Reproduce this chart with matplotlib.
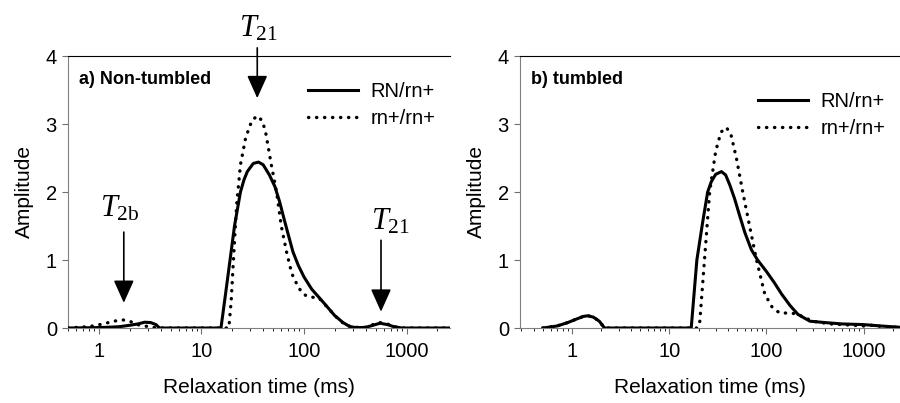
import matplotlib
matplotlib.use("Agg")
import matplotlib.pyplot as plt

plt.rcParams['font.family'] = ['Liberation Sans', 'DejaVu Sans']
plt.rcParams['mathtext.fontset'] = 'custom'
plt.rcParams['mathtext.rm'] = 'Liberation Serif'
plt.rcParams['mathtext.it'] = 'Liberation Serif:italic'

# a) non-tumbled, RN/rn+ (solid)
a_rn_x = [0.5, 0.8, 1.2, 1.6, 2.0, 2.4, 2.8, 3.2, 3.6, 3.9, 6, 10, 15.5, 17, 19, 21, 24, 26, 28,
          32, 36, 40, 46, 52, 58, 64, 70, 78, 88, 100, 119, 140, 160, 200, 240, 280, 330,
          400, 470, 550, 650, 750, 900, 1300, 2700]
a_rn_y = [0, 0.004, 0.01, 0.02, 0.04, 0.06, 0.085, 0.08, 0.05, 0.0, 0, 0, 0, 0.45, 1.0, 1.5, 2.0, 2.18, 2.3,
          2.42, 2.44, 2.4, 2.25, 2.08, 1.85, 1.6, 1.38, 1.12, 0.92, 0.75, 0.57, 0.45, 0.35, 0.18, 0.08, 0.02, 0.005,
          0.01, 0.04, 0.07, 0.05, 0.02, 0, 0, 0]
# a) non-tumbled, rn+/rn+ (dotted)
a_pp_x = [0.5, 0.8, 1.1, 1.4, 1.7, 2.0, 2.35, 2.8, 3.3, 4.0, 8, 18.5, 19.5, 20.5, 22, 24, 27,
          31, 35, 39, 42, 48, 54, 60, 68, 76, 88, 98, 110, 125, 140, 170, 200, 250, 300,
          400, 470, 550, 650, 750, 900, 1300, 2700]
a_pp_y = [0, 0.02, 0.06, 0.1, 0.12, 0.1, 0.05, 0.03, 0.01, 0, 0, 0, 0.4, 1.0, 1.8, 2.4, 2.8,
          3.05, 3.12, 3.05, 2.9, 2.4, 2.0, 1.5, 1.1, 0.8, 0.6, 0.5, 0.46, 0.45, 0.44, 0.3, 0.18, 0.05, 0.01,
          0.01, 0.05, 0.08, 0.06, 0.02, 0, 0, 0]

# b) tumbled, RN/rn+ (solid)
b_rn_x = [0.5, 0.7, 0.9, 1.1, 1.3, 1.45, 1.65, 1.9, 2.15, 5, 10, 16.8, 19.2, 22, 24.8, 27, 30,
          34.4, 38, 42, 47, 53, 60, 70, 81, 100, 120, 143, 175, 211, 280, 400, 600, 1000, 1500, 2400]
b_rn_y = [0, 0.03, 0.08, 0.13, 0.17, 0.18, 0.16, 0.1, 0, 0, 0, 0, 1.0, 1.55, 2.0, 2.15, 2.26,
          2.3, 2.25, 2.1, 1.9, 1.65, 1.4, 1.15, 1.0, 0.83, 0.67, 0.5, 0.33, 0.2, 0.1, 0.08, 0.06, 0.05, 0.03, 0.01]
# b) tumbled, rn+/rn+ (dotted)
b_pp_x = [0.5, 0.7, 0.9, 1.1, 1.3, 1.45, 1.65, 1.9, 2.15, 5, 10, 19.5, 20.6, 23, 26, 30, 34,
          38.6, 43, 49, 57, 67, 79, 96, 115, 137, 170, 203, 250, 300, 450, 600, 1000, 1200, 1600, 2400]
b_pp_y = [0, 0.03, 0.08, 0.13, 0.17, 0.18, 0.16, 0.1, 0, 0, 0, 0, 0.1, 1.0, 2.0, 2.6, 2.88,
          2.95, 2.85, 2.5, 2.0, 1.5, 1.0, 0.5, 0.3, 0.22, 0.22, 0.21, 0.15, 0.1, 0.06, 0.05, 0.03, 0.04, 0.02, 0.01]

fig = plt.figure(figsize=(9, 4.03), dpi=100)
ax1 = fig.add_axes([68/900, 1-328/403, 382/900, 272/403])
ax2 = fig.add_axes([520/900, 1-328/403, 380/900, 272/403])


def style(ax, xmin, xmax, label):
    ax.set_xscale('log')
    ax.set_xlim(xmin, xmax)
    ax.set_ylim(0, 4)
    ax.set_yticks([0, 1, 2, 3, 4])
    ax.set_xticks([1, 10, 100, 1000])
    ax.set_xticklabels(['1', '10', '100', '1000'])
    ax.tick_params(axis='both', labelsize=14.5, direction='out', color='#707070')
    ax.tick_params(axis='x', which='major', length=4, pad=6)
    ax.tick_params(axis='x', which='minor', length=2.5)
    ax.tick_params(axis='y', length=4, pad=4)
    ax.spines['right'].set_visible(False)
    ax.spines['left'].set_color('#808080')
    ax.spines['bottom'].set_color('#808080')
    ax.spines['top'].set_linewidth(0.8)
    ax.set_ylabel('Amplitude', fontsize=15, labelpad=8.5)
    ax.set_xlabel('Relaxation time (ms)', fontsize=15, labelpad=12)
    ax.text(0.03, 0.915, label, transform=ax.transAxes, fontsize=13,
            fontweight='bold', va='center')


for ax, rx, ry, px, py in [(ax1, a_rn_x, a_rn_y, a_pp_x, a_pp_y),
                           (ax2, b_rn_x, b_rn_y, b_pp_x, b_pp_y)]:
    ax.plot(rx, ry, color='black', lw=2.2, solid_joinstyle='round', label='RN/rn+', zorder=3)
    ax.plot(px, py, color='black', lw=2.4, linestyle=(0, (0.1, 2.3)),
            dash_capstyle='round', label='rn+/rn+', zorder=4)

style(ax1, 0.5, 2650, 'a) Non-tumbled')
style(ax2, 0.29, 2370, 'b) tumbled')

ax1.legend(loc='upper right', bbox_to_anchor=(0.982, 0.935), frameon=False, fontsize=14.5,
           handlelength=2.5, handletextpad=0.6, labelspacing=0.42, borderaxespad=0)
ax2.legend(loc='upper right', bbox_to_anchor=(0.982, 0.898), frameon=False, fontsize=14.5,
           handlelength=2.5, handletextpad=0.6, labelspacing=0.42, borderaxespad=0)

# arrows marking the T2 populations
arrow_x = [35, 1.75, 563]
arrow_top = [4.12, 1.41, 1.29]
arrow_tip = [3.38, 0.37, 0.24]
arrow_text = [r'$T_{\mathrm{21}}$', r'$T_{\mathrm{2b}}$', r'$T_{\mathrm{21}}$']
text_x = [36, 1.6, 690]
text_y = [4.41, 1.76, 1.56]
for xa, yt, yp, s, tx, ty in zip(arrow_x, arrow_top, arrow_tip, arrow_text, text_x, text_y):
    ax1.annotate('', xy=(xa, yp), xytext=(xa, yt), annotation_clip=False,
                 arrowprops=dict(arrowstyle='-|>,head_length=1.0,head_width=0.45',
                                 color='black', lw=1.2, mutation_scale=14,
                                 shrinkA=0, shrinkB=0))
    ax1.text(tx, ty, s, fontsize=22, ha='center', va='center', clip_on=False)

fig.savefig('out.png', dpi=100)
